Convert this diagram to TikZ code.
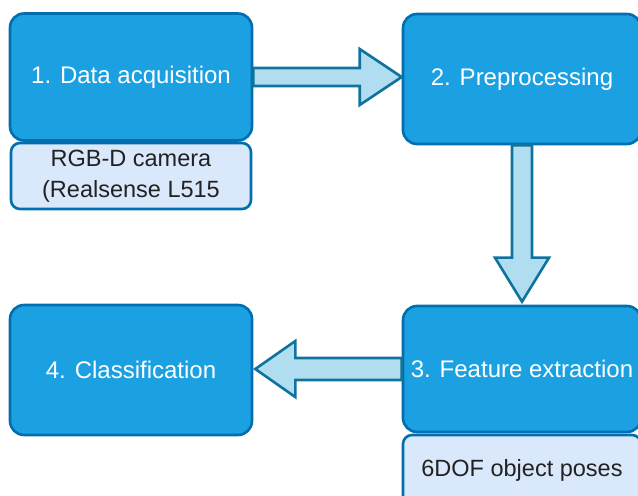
\documentclass[tikz,border=0pt]{standalone}
\usepackage{fontspec}
\setmainfont{Liberation Sans}
\usetikzlibrary{calc}
\definecolor{stepfill}{HTML}{1BA1E2}
\definecolor{stepline}{HTML}{006EAF}
\definecolor{notefill}{HTML}{DAE8FC}
\definecolor{arrowfill}{HTML}{B1DDF0}
\definecolor{arrowline}{HTML}{10739E}
\definecolor{notetext}{HTML}{222222}
\tikzset{
  stepbox/.style={draw=stepline, fill=stepfill, line width=2.6bp,
    rounded corners=14bp, text=white, align=center,
    font=\fontsize{24bp}{29bp}\selectfont, inner sep=0pt},
  notebox/.style={draw=stepline, fill=notefill, line width=2.6bp,
    rounded corners=9bp, text=notetext, align=center,
    font=\fontsize{23.5bp}{31bp}\selectfont, inner sep=0pt},
  blockarrow/.style={draw=arrowline, fill=arrowfill, line width=2.6bp, line join=miter}
}
\begin{document}
\begin{tikzpicture}[x=1bp, y=-1bp]
\useasboundingbox (0,0) rectangle (638,496);
\clip (0,0) rectangle (638,496);

% notes under steps 1 and 3
\node[notebox, minimum width=240bp, minimum height=66bp] (n1) at (131,176)
  {RGB-D camera\\(Realsense L515};
\node[notebox, minimum width=238bp, minimum height=70bp] (n3) at (522,470)
  {\raisebox{5bp}{6DOF object poses}};

% process steps
\node[stepbox, minimum width=242bp, minimum height=127bp] (s1) at (131,77) {1. Data acquisition};
\node[stepbox, minimum width=238bp, minimum height=130bp] (s2) at (522,79) {2. Preprocessing};
\node[stepbox, minimum width=238bp, minimum height=126bp] (s3) at (522,369) {3. Feature extraction};
\node[stepbox, minimum width=242bp, minimum height=130bp] (s4) at (131,370) {4. Classification};

% 1 -> 2 (horizontal, at the height of the middle of the first step)
\coordinate (tail12) at (s1.east);
\coordinate (tip12) at (s2.west |- s1.east);
\draw[blockarrow]
  ($(tail12)+(0,-9)$) -- ($(tip12)+(-42,-9)$) -- ($(tip12)+(-42,-28)$)
  -- (tip12)
  -- ($(tip12)+(-42,28)$) -- ($(tip12)+(-42,9)$) -- ($(tail12)+(0,9)$) -- cycle;

% 2 -> 3
\coordinate (tip23) at ($(s3.north)+(0,-3)$);
\draw[blockarrow]
  ($(s2.south)+(-10,0)$) -- ($(tip23)+(-10,-44)$) -- ($(tip23)+(-27,-44)$)
  -- (tip23)
  -- ($(tip23)+(27,-44)$) -- ($(tip23)+(10,-44)$) -- ($(s2.south)+(10,0)$) -- cycle;

% 3 -> 4 (horizontal, at the height of the middle of the third step)
\coordinate (tail34) at (s3.west);
\coordinate (tip34) at ($(s4.east |- s3.west)+(2,0)$);
\draw[blockarrow]
  ($(tail34)+(0,-11)$) -- ($(tip34)+(40,-11)$) -- ($(tip34)+(40,-28)$)
  -- (tip34)
  -- ($(tip34)+(40,28)$) -- ($(tip34)+(40,11)$) -- ($(tail34)+(0,11)$) -- cycle;
\end{tikzpicture}
\end{document}
